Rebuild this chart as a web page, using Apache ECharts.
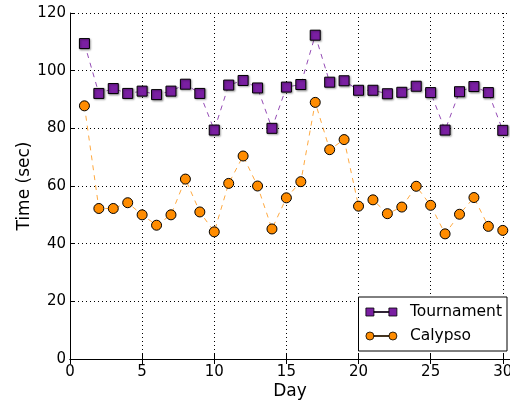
<!DOCTYPE html>
<html>
<head>
<meta charset="utf-8">
<script src="https://cdn.jsdelivr.net/npm/echarts@6/dist/echarts.min.js"></script>
<style>
  html, body { margin: 0; padding: 0; background: #fff; }
  #chart { width: 510px; height: 404px; }
</style>
</head>
<body>
<div id="chart"></div>
<script>
// values
var days = [1, 2, 3, 4, 5, 6, 7, 8, 9, 10, 11, 12, 13, 14, 15, 16, 17, 18, 19, 20, 21, 22, 23, 24, 25, 26, 27, 28, 29, 30]
var tournament = [109.4, 92.1, 93.8, 92.1, 92.9, 91.7, 92.9, 95.3, 92.1, 79.4, 95.0, 96.6, 94.0, 80.0, 94.3,
  95.2, 112.3, 96.0, 96.5, 93.2, 93.2, 92.0, 92.5, 94.6, 92.4, 79.4, 92.7, 94.5, 92.4, 79.3]
var calypso = [87.8, 52.2, 52.2, 54.2, 50.0, 46.4, 50.0, 62.4, 51.0, 44.1, 60.9, 70.4, 60.0, 45.1, 55.9,
  61.5, 89.0, 72.6, 76.1, 53.0, 55.2, 50.4, 52.7, 59.9, 53.3, 43.4, 50.2, 56.0, 46.0, 44.6]
var xTicks = [0, 5, 10, 15, 20, 25, 30]
var yTicks = [0, 20, 40, 60, 80, 100, 120]

var FONT = 'DejaVu Sans'
var PURPLE = '#7a1fa2'
var ORANGE = '#ff8c00'

function pairs(vals) {
  return days.map(function(d, i) { return [d, vals[i]] })
}

// legend icons: marker - line - marker
var squareIcon = 'path://M0,0L8,0L8,8L0,8Z M8,3.6L23,3.6L23,4.4L8,4.4Z M23,0L31,0L31,8L23,8Z'
var circleIcon = 'path://M0,4A4,4,0,1,1,8,4A4,4,0,1,1,0,4Z M8,3.6L23,3.6L23,4.4L8,4.4Z M23,4A4,4,0,1,1,31,4A4,4,0,1,1,23,4Z'

var chart = echarts.init(document.getElementById('chart'), null, { renderer: 'canvas' })

var axisText = { fontFamily: FONT, fontSize: 15, color: '#000' }

chart.setOption({
  animation: false,
  backgroundColor: '#fff',
  grid: { left: 70, right: 0, top: 13, bottom: 45, containLabel: false, outerBoundsMode: 'none' },
  legend: {
    right: 3,
    bottom: 53,
    orient: 'vertical',
    backgroundColor: '#fff',
    borderColor: '#000',
    borderWidth: 1,
    borderRadius: 0,
    padding: [7, 5, 7, 7],
    itemGap: 8,
    itemWidth: 31,
    itemHeight: 8,
    textStyle: { fontFamily: FONT, fontSize: 15.5, color: '#000', padding: [0, 0, 0, 8] },
    data: [
      { name: 'Tournament', icon: squareIcon, itemStyle: { color: PURPLE, borderColor: '#000', borderWidth: 0.8 } },
      { name: 'Calypso', icon: circleIcon, itemStyle: { color: ORANGE, borderColor: '#000', borderWidth: 0.8 } }
    ]
  },
  xAxis: [{
    type: 'value',
    min: 0,
    max: 30.5,
    interval: 5,
    name: 'Day',
    nameLocation: 'middle',
    nameGap: 24,
    nameMoveOverlap: false,
    nameTextStyle: { fontFamily: FONT, fontSize: 17, color: '#000' },
    axisLine: { show: true, onZero: false, lineStyle: { color: '#000', width: 1 } },
    axisTick: { show: true, inside: true, length: 5, lineStyle: { color: '#000' } },
    axisLabel: Object.assign({ showMaxLabel: false, margin: 6 }, axisText),
    splitLine: { show: true, lineStyle: { color: '#000', type: [1, 3], width: 1 } }
  }, {
    type: 'value',
    position: 'top',
    min: 0,
    max: 30.5,
    interval: 5,
    axisLine: { show: true, lineStyle: { color: '#000', width: 1 } },
    axisTick: { show: true, inside: true, length: 5, lineStyle: { color: '#000' } },
    axisLabel: { show: false },
    splitLine: { show: false }
  }],
  yAxis: {
    type: 'value',
    min: 0,
    max: 120,
    interval: 20,
    name: 'Time (sec)',
    nameLocation: 'middle',
    nameGap: 37,
    nameMoveOverlap: false,
    nameTextStyle: { fontFamily: FONT, fontSize: 17, color: '#000' },
    axisLine: { show: true, lineStyle: { color: '#000', width: 1 } },
    axisTick: { show: true, inside: true, length: 5, lineStyle: { color: '#000' } },
    axisLabel: Object.assign({ margin: 4 }, axisText),
    splitLine: { show: true, lineStyle: { color: '#000', type: [1, 3], width: 1 } }
  },
  series: [{
    name: 'Tournament',
    type: 'line',
    data: pairs(tournament),
    symbol: 'rect',
    symbolSize: 10,
    itemStyle: { color: PURPLE, borderColor: '#000', borderWidth: 1, shadowColor: 'rgba(0,0,0,0.35)', shadowBlur: 2, shadowOffsetX: 1, shadowOffsetY: 1 },
    lineStyle: { color: PURPLE, width: 1, type: [5, 5], opacity: 0.8 },
    z: 3
  }, {
    name: 'Calypso',
    type: 'line',
    data: pairs(calypso),
    symbol: 'circle',
    symbolSize: 10,
    itemStyle: { color: ORANGE, borderColor: '#000', borderWidth: 1 },
    lineStyle: { color: ORANGE, width: 1, type: [5, 5], opacity: 0.75 },
    z: 2
  }]
})
</script>
</body>
</html>
